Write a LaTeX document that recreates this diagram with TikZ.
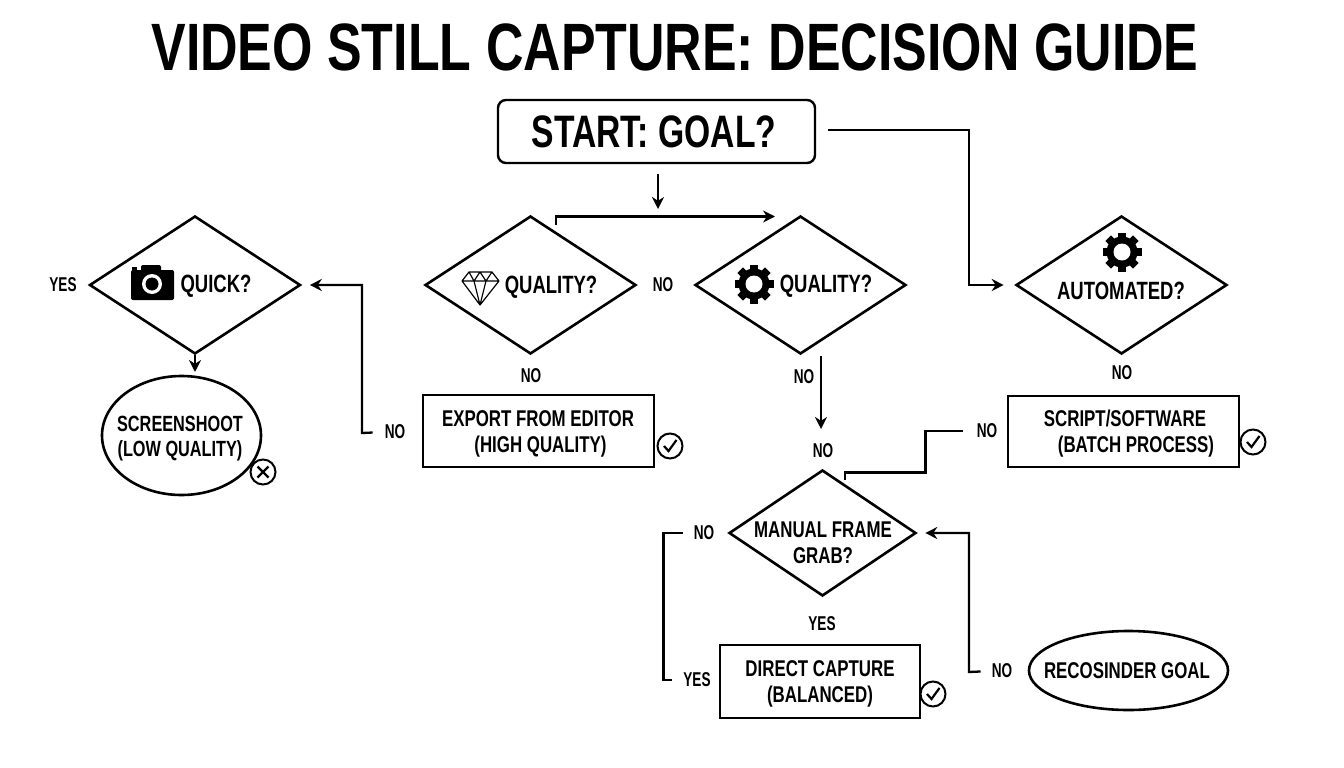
\documentclass[tikz,border=0pt]{standalone}
\usepackage{fontspec}
\setmainfont{Liberation Sans}[FakeStretch=0.74]
\newfontfamily\widefont{Liberation Sans}[FakeStretch=0.775]
\newfontfamily\slimfont{Liberation Sans}[FakeStretch=0.68]
\usetikzlibrary{arrows.meta,shapes.geometric}
\tikzset{
  decision/.style={draw,diamond,line width=2.6pt,inner sep=0pt},
  process/.style={draw,line width=2.6pt,inner sep=0pt},
  terminal/.style={draw,ellipse,line width=2.6pt,inner sep=0pt},
  caption/.style={font=\fontsize{25}{25}\selectfont\bfseries,align=center,inner sep=0pt},
  boxtext/.style={font=\fontsize{22.8}{26}\selectfont\bfseries,align=center,inner sep=0pt},
  answer/.style={font=\slimfont\fontsize{20}{20}\selectfont\bfseries,inner sep=0pt},
  flow/.style={line width=2.3pt,-{Stealth[length=12pt,width=12pt]}},
  plainflow/.style={line width=2.3pt},
  gearicon/.pic={
    \foreach \a in {0,45,...,315}
      \fill[black,rotate=\a] (-4,-19.5) rectangle (4,0);
    \fill[black] (0,0) circle (15.5);
    \fill[white] (0,0) circle (8.5);
  },
  gemicon/.pic={
    \draw[line width=1.2pt,line join=round] (-11,-16) -- (12,-16) -- (19,-7) -- (0,17) -- (-18,-7) -- cycle
      (-18,-7) -- (19,-7)
      (-11,-16) -- (-6,-7) -- (0,-16) -- (6,-7) -- (12,-16)
      (-6,-7) -- (0,17) -- (6,-7);
  },
  cameraicon/.pic={
    \fill[black,rounded corners=2pt] (-21,-14) rectangle (22,16);
    \fill[black,rounded corners=2pt] (-11,-19) rectangle (9,-10);
    \fill[black] (-20,-17) rectangle (-15,-12);
    \fill[white] (0,0) circle (10);
    \fill[black] (0,0) circle (6.5);
  },
  okmark/.pic={
    \draw[line width=2pt] (0,0) circle (12.5);
    \draw[line width=2.2pt] (-6,0) -- (-1.5,5) -- (6.5,-6);
  },
  xmark/.pic={
    \draw[line width=2pt] (0,0) circle (12.5);
    \draw[line width=2.2pt] (-5.5,-5.5) -- (5.5,5.5) (-5.5,5.5) -- (5.5,-5.5);
  }
}
\begin{document}
\begin{tikzpicture}[x=1pt,y=-1pt]
    \useasboundingbox (0,0) rectangle (1344,768);

    \node (title) at (675,47) [inner sep=0pt,font=\widefont\fontsize{67}{67}\selectfont\bfseries] {VIDEO STILL CAPTURE: DECISION GUIDE};

    \node (start) at (656.5,131.5) [draw,rounded corners=8pt,line width=2.4pt,minimum width=317pt,minimum height=63pt,
      inner sep=0pt,font=\fontsize{45.5}{46}\selectfont\bfseries] {START: GOAL?\hspace*{5pt}};

    % decisions
    \node (quick) at (195,285) [decision,minimum width=211pt,minimum height=138pt] {};
    \node (quality) at (530.5,285) [decision,minimum width=211pt,minimum height=138pt] {};
    \node (qualitytwo) at (800.5,285) [decision,minimum width=211pt,minimum height=138pt] {};
    \node (automated) at (1121.5,285) [decision,minimum width=211pt,minimum height=138pt] {};
    \node (manual) at (822.5,533) [decision,minimum width=187pt,minimum height=126pt] {};

    \node (quicktext) at (216,286) [caption] {QUICK?};
    \node (qualitytext) at (551,287) [caption] {QUALITY?};
    \node (qualitytwotext) at (826,286) [caption] {QUALITY?};
    \node (automatedtext) at (1121,291) [caption] {AUTOMATED?};
    \node (manualtext) at (823,543) [boxtext] {MANUAL FRAME\\GRAB?};

    \pic at (152,284) {cameraicon};
    \pic at (480,288) {gemicon};
    \pic at (754,284) {gearicon};
    \pic at (1122,252) {gearicon};

    % results
    \node (export) at (538.5,431) [process,minimum width=231pt,minimum height=72pt] {};
    \node (exporttext) at (538,434) [boxtext] {EXPORT FROM EDITOR\\\hspace*{5pt}(HIGH QUALITY)};
    \node (script) at (1123.5,431.5) [process,minimum width=231pt,minimum height=71pt] {};
    \node (scripttext) at (1125,433.5) [boxtext] {SCRIPT/SOFTWARE\\\hspace*{22pt}(BATCH PROCESS)};
    \node (direct) at (820,681.5) [process,minimum width=200pt,minimum height=73pt] {};
    \node (directtext) at (820,684) [boxtext] {DIRECT CAPTURE\\(BALANCED)};
    \node (shot) at (181.5,435.5) [terminal,minimum width=159pt,minimum height=119pt] {};
    \node (shottext) at (180,438.5) [boxtext,font=\fontsize{22}{25.5}\selectfont\bfseries] {SCREENSHOOT\\(LOW QUALITY)};
    \node (recon) at (1128.5,670.5) [terminal,minimum width=199pt,minimum height=79pt] {};
    \node (recontext) at (1127,671) [boxtext] {RECOSINDER GOAL};

    \pic at (263,472) {xmark};
    \pic at (670,446) {okmark};
    \pic at (1253,442) {okmark};
    \pic at (933,694) {okmark};

    % answers
    \node (yesquick) at (63,285) [answer] {YES};
    \node (noquality) at (663,285) [answer] {NO};
    \node (noqualitydown) at (531,376) [answer] {NO};
    \node (noexport) at (395,432) [answer] {NO};
    \node (notwo) at (804,377) [answer] {NO};
    \node (nomanual) at (823,451) [answer] {NO};
    \node (noauto) at (1122,373) [answer] {NO};
    \node (noscript) at (987,431) [answer] {NO};
    \node (nobracket) at (704,533) [answer] {NO};
    \node (yesmanual) at (822,624) [answer] {YES};
    \node (yesdirect) at (697,680) [answer] {YES};
    \node (norecon) at (1002,671) [answer] {NO};

    % connectors
    \coordinate (bendauto) at (969,285);
    \coordinate (bendexport) at (362,433);
    \coordinate (tapquality) at (556,225);
    \coordinate (endquality) at (775,216.5);
    \coordinate (bendrecon) at (969,672);
    \coordinate (startdown) at (658,174);
    \coordinate (enddown) at (658,209);
    \coordinate (twoout) at (821,356);
    \coordinate (twoin) at (821,429);
    \coordinate (tapmanual) at (845,480);
    \coordinate (stepa) at (925.5,472.5);
    \coordinate (bracketa) at (663.5,533);
    \coordinate (bracketb) at (663.5,680);
    \coordinate (quickin) at (195,372);

    \draw[flow] (startdown) -- (enddown);
    \draw[flow,shorten <=12pt,shorten >=11pt] ([yshift=1.5pt]start.east) -| (bendauto) -- (automated.west);
    \draw[flow] (tapquality) |- (endquality);
    \draw[flow,shorten >=8pt,shorten <=12pt] (noexport.west) -- (bendexport) |- (quick.east);
    \draw[flow] (quick.south) -- (quickin);
    \draw[flow] (twoout) -- (twoin);
    \draw[plainflow,shorten <=14pt] (noscript.west) -- (noscript.west -| stepa) -- (stepa) -| (tapmanual);
    \draw[plainflow,shorten <=11pt,shorten >=11pt] (nobracket.west) -- (bracketa) -- (bracketb) -- (yesdirect.west);
    \draw[flow,shorten <=11pt,shorten >=8pt] (norecon.west) -- (bendrecon) |- (manual.east);
\end{tikzpicture}
\end{document}
